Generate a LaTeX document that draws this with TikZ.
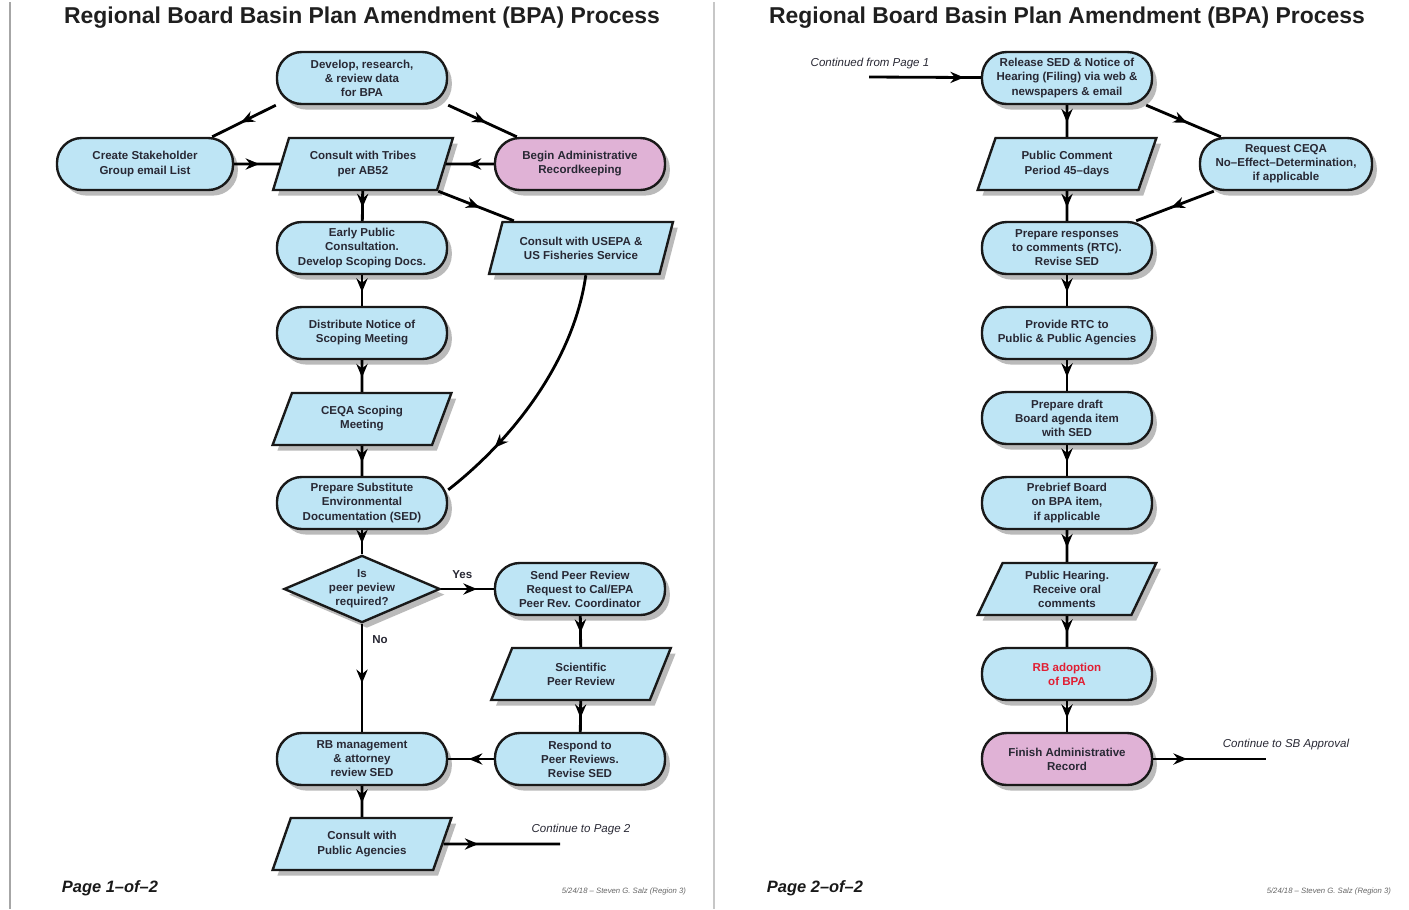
\documentclass[tikz,border=0pt]{standalone}
\usepackage{fontspec}
\setmainfont{Liberation Sans}
\usetikzlibrary{shapes.geometric,shadows,arrows.meta,decorations.markings}
\definecolor{boxblue}{RGB}{190,229,245}
\definecolor{boxpink}{RGB}{224,178,214}
\definecolor{ink}{RGB}{40,40,52}
\definecolor{rbred}{RGB}{225,30,50}
\begin{document}
\begin{tikzpicture}[x=0.025cm,y=-0.025cm,
  txt/.style={font=\bfseries\fontsize{8.2}{10}\selectfont,text=ink,align=center},
  base/.style={txt,draw=black!90,line width=1.7pt,fill=boxblue,
    drop shadow={shadow xshift=0.12cm,shadow yshift=-0.14cm,fill=black!27,opacity=1}},
  pill/.style={base,rectangle,rounded corners=0.62cm,minimum width=4.25cm,minimum height=1.3cm,inner sep=1pt},
  para/.style={base,trapezium,trapezium left angle=67,trapezium right angle=113,
    trapezium stretches=true,minimum width=4.5cm,minimum height=1.3cm,inner sep=1pt},
  choice/.style={base,diamond,aspect=2.34,minimum width=3.9cm,minimum height=1.68cm,inner sep=0pt},
  link/.style={line width=2pt,postaction={decorate},decoration={markings,
    mark=at position #1 with {\arrow{Stealth[length=0.34cm,width=0.28cm,inset=0.11cm]}}}},
  link/.default=0.55,
  note/.style={font=\itshape\fontsize{8.2}{10}\selectfont,text=ink},
  foot/.style={font=\itshape\fontsize{5.5}{7}\selectfont,text=black!60},
  pagenum/.style={font=\bfseries\itshape\fontsize{11.7}{14}\selectfont,text=black!90},
  heading/.style={font=\bfseries\fontsize{16.3}{19}\selectfont,text=black!88}]
  \useasboundingbox (0,0) rectangle (1409,909);

  % page frames
  \draw[black!35,line width=1.2pt] (10,2) -- (10,909);
  \draw[black!22,line width=1.6pt] (714,2) -- (714,909);

  % ---------- page 1
  \node[heading] (title1) at (362,18) {Regional Board Basin Plan Amendment (BPA) Process};

  \node[pill] (dev) at (362,78) {Develop, research,\\ \& review data\\ for BPA};
  \node[pill,minimum width=4.4cm] (stake) at (145,164) {Create Stakeholder\\ Group email List};
  \node[para] (tribes) at (363,164) {Consult with Tribes\\ per AB52};
  \node[pill,fill=boxpink] (admin) at (580,164) {Begin Administrative\\ Recordkeeping};
  \node[pill] (early) at (362,248) {Early Public\\ Consultation.\\ Develop Scoping Docs.};
  \node[para,minimum width=4.6cm] (epa) at (581,248) {Consult with USEPA \&\\ US Fisheries Service};
  \node[pill] (notice) at (362,333) {Distribute Notice of\\ Scoping Meeting};
  \node[para] (scope) at (362,419) {CEQA Scoping\\ Meeting};
  \node[pill] (sed) at (362,503) {Prepare Substitute\\ Environmental\\ Documentation (SED)};
  \node[choice] (peer) at (362,589) {Is\\ peer peview\\ required?};
  \node[pill] (send) at (580,589) {Send Peer Review\\ Request to Cal/EPA\\ Peer Rev. Coordinator};
  \node[para] (sci) at (581,674) {Scientific\\ Peer Review};
  \node[pill] (resp) at (580,759) {Respond to\\ Peer Reviews.\\ Revise SED};
  \node[pill] (rbm) at (362,759) {RB management\\ \& attorney\\ review SED};
  \node[para] (agency) at (362,844) {Consult with\\ Public Agencies};
  \coordinate (p2out) at (560,844);

  \node[note] (p2lbl) at (581,830) {Continue to Page 2};
  \node[pagenum,anchor=west] (pg1) at (57,888) {Page 1–of–2};
  \node[foot,anchor=east] (foot1) at (691,891) {5/24/18 – Steven G. Salz (Region 3)};

  \draw[link] (dev.south west) -- ([xshift=-0.55cm]stake.north east);
  \draw[link] (dev.south east) -- ([xshift=0.575cm]admin.north west);
  \draw[link] (stake) -- (tribes);
  \draw[link] (admin) -- (tribes);
  \draw[link] (tribes) -- (early);
  \draw[link] ([xshift=1.88cm]tribes.south) -- ([xshift=-1.68cm]epa.north);
  \draw[link] (early) -- (notice);
  \draw[link] (notice) -- (scope);
  \draw[link] (scope) -- (sed);
  \draw[link=0.76] ([xshift=0.12cm]epa.south) to[out=-98,in=38,looseness=0.85] ([yshift=0.33cm]sed.east);
  \draw[link] (sed) -- (peer);
  \draw[link=0.68] (peer) -- node[txt,above=3pt,pos=0.4]{Yes} (send);
  \draw[link] (peer) -- node[txt,right=3pt,pos=0.15]{No} (rbm);
  \draw[link] (send) -- (sci);
  \draw[link] (sci) -- (resp);
  \draw[link] (resp) -- (rbm);
  \draw[link] (rbm) -- (agency);
  \draw[link=0.3] (agency) -- (p2out);

  % ---------- page 2
  \node[heading] (title2) at (1067,18) {Regional Board Basin Plan Amendment (BPA) Process};

  \node[pill] (rel) at (1067,78) {Release SED \& Notice of\\ Hearing (Filing) via web \&\\ newspapers \& email};
  \node[para] (cmt) at (1067,164) {Public Comment\\ Period 45–days};
  \node[pill,minimum width=4.3cm] (ceqa) at (1286,164) {Request CEQA\\ No–Effect–Determination,\\ if applicable};
  \node[pill] (rtc) at (1067,248) {Prepare responses\\ to comments (RTC).\\ Revise SED};
  \node[pill] (prov) at (1067,333) {Provide RTC to\\ Public \& Public Agencies};
  \node[pill] (draft) at (1067,418) {Prepare draft\\ Board agenda item\\ with SED};
  \node[pill] (brief) at (1067,503) {Prebrief Board\\ on BPA item,\\ if applicable};
  \node[para] (hear) at (1067,589) {Public Hearing.\\ Receive oral\\ comments};
  \node[pill,text=rbred] (adopt) at (1067,674) {RB adoption\\ of BPA};
  \node[pill,fill=boxpink] (fin) at (1067,759) {Finish Administrative\\ Record};
  \coordinate (p1in) at (869,77);
  \coordinate (sbout) at (1266,759);

  \node[note] (p1lbl) at (870,64) {Continued from Page 1};
  \node[note] (sblbl) at (1286,745) {Continue to SB Approval};
  \node[pagenum,anchor=west] (pg2) at (762,888) {Page 2–of–2};
  \node[foot,anchor=east] (foot2) at (1396,891) {5/24/18 – Steven G. Salz (Region 3)};

  \draw[link=0.85] (p1in) -- (rel);
  \draw[link] (rel) -- (cmt);
  \draw[link] ([xshift=-0.175cm]rel.south east) -- ([xshift=0.55cm]ceqa.north west);
  \draw[link] ([xshift=0.375cm]ceqa.south west) -- ([xshift=-0.425cm]rtc.north east);
  \draw[link] (cmt) -- (rtc);
  \draw[link] (rtc) -- (prov);
  \draw[link] (prov) -- (draft);
  \draw[link] (draft) -- (brief);
  \draw[link] (brief) -- (hear);
  \draw[link] (hear) -- (adopt);
  \draw[link] (adopt) -- (fin);
  \draw[link=0.3] (fin) -- (sbout);
\end{tikzpicture}
\end{document}
